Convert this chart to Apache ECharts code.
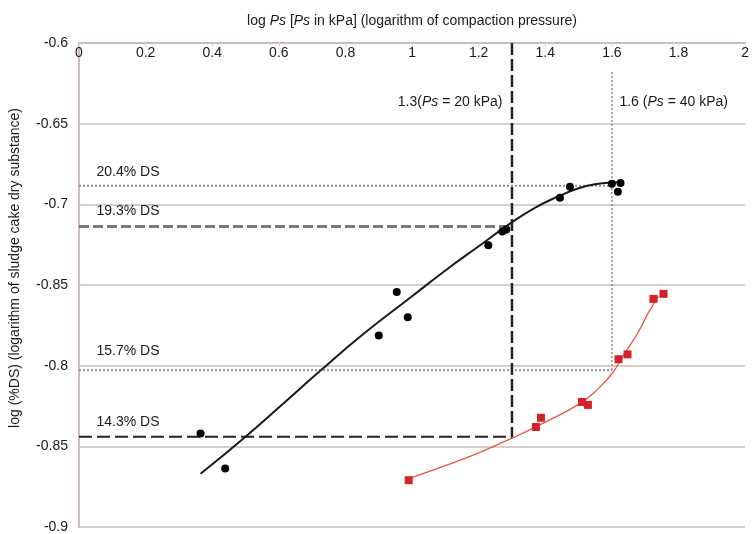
<!DOCTYPE html>
<html><head><meta charset="utf-8">
<script src="https://cdn.jsdelivr.net/npm/echarts@6/dist/echarts.min.js"></script>
<style>html,body{margin:0;padding:0;background:#fff}#c{width:752px;height:534px}</style>
</head><body><div id="c"></div>
<script>
// measured data points (log Ps, log %DS)
const blackX = [0.365, 0.439, 0.900, 0.954, 0.987, 1.229, 1.271, 1.283, 1.444, 1.474, 1.600, 1.626, 1.618];
const blackY = [-0.842, -0.8637, -0.7813, -0.7543, -0.770, -0.7254, -0.7168, -0.7156, -0.6959, -0.6891, -0.6873, -0.6867, -0.6922];
const redX = [0.990, 1.372, 1.387, 1.510, 1.528, 1.620, 1.647, 1.725, 1.755];
const redY = [-0.871, -0.838, -0.8323, -0.8225, -0.8243, -0.796, -0.793, -0.7586, -0.7555];
// fitted curves
const blackFitX = [0.365, 0.5, 0.6, 0.72, 0.85, 1.0, 1.1, 1.2, 1.294, 1.37, 1.44, 1.5, 1.55, 1.6, 1.63];
const blackFitY = [-0.867, -0.844, -0.826, -0.804, -0.781, -0.757, -0.741, -0.726, -0.712, -0.702, -0.695, -0.690, -0.6875, -0.6865, -0.686];
const redFitX = [0.99, 1.1, 1.2, 1.3, 1.4, 1.5, 1.55, 1.6, 1.64, 1.68, 1.71, 1.74];
const redFitY = [-0.870, -0.862, -0.854, -0.845, -0.835, -0.824, -0.816, -0.805, -0.792, -0.779, -0.767, -0.757];
// horizontal reference lines
const refLabels = ['20.4% DS', '19.3% DS', '15.7% DS', '14.3% DS'];
const refY = [-0.6885, -0.7137, -0.8028, -0.844];
const refEndX = [1.6, 1.3, 1.6, 1.3];
// vertical reference lines
const vRefX = [1.3, 1.6];
const vRefKPa = [20, 40];
const vRefTop = [-0.6, -0.618];
const vRefBottom = [-0.8446, -0.8028];
// y tick labels (as printed)
const yTickLabels = ['-0.9', '-0.85', '-0.8', '-0.85', '-0.7', '-0.65', '-0.6'];

const FONT = "'Liberation Sans', Arial, sans-serif";
const TXT = '#1a1a1a';
const GRIDC = '#cdbcb7';

const hStyles = [
  {type: [2, 2], width: 2, color: '#8f8f8f'},
  {type: [10, 4], width: 3, color: '#7a7a7a'},
  {type: [2, 2], width: 2, color: '#8f8f8f'},
  {type: [13, 5], width: 2, color: '#222'}
];
const vStyles = [
  {type: [12, 4], width: 2.5, color: '#222'},
  {type: [2, 2], width: 1.5, color: '#8f8f8f'}
];
const hLabelDy = [-14, -15, -19, -15];

const series = [];
refY.forEach((y, i) => {
  series.push({
    type: 'line', silent: true, z: 1, symbol: 'none',
    data: [[0, y], [refEndX[i], y]],
    lineStyle: hStyles[i]
  });
});
vRefX.forEach((x, i) => {
  series.push({
    type: 'line', silent: true, z: 1, symbol: 'none',
    data: [[x, vRefTop[i]], [x, vRefBottom[i]]],
    lineStyle: vStyles[i]
  });
});
series.push({
  type: 'line', z: 3, showSymbol: false, smooth: 0.5,
  data: blackFitX.map((x, i) => [x, blackFitY[i]]),
  lineStyle: {color: '#1a1a1a', width: 2}
});
series.push({
  type: 'line', z: 3, showSymbol: false, smooth: 0.5,
  data: redFitX.map((x, i) => [x, redFitY[i]]),
  lineStyle: {color: '#e8553f', width: 1.3}
});
series.push({
  type: 'scatter', z: 4, symbol: 'circle', symbolSize: 8,
  data: blackX.map((x, i) => [x, blackY[i]]),
  itemStyle: {color: '#000', opacity: 1}
});
series.push({
  type: 'scatter', z: 4, symbol: 'rect', symbolSize: 8,
  data: redX.map((x, i) => [x, redY[i]]),
  itemStyle: {color: '#d2232a', opacity: 1}
});
// annotation labels
const annData = [];
refY.forEach((y, i) => {
  annData.push({
    value: [0, y],
    label: {show: true, position: 'right', distance: 17, offset: [0, hLabelDy[i]], formatter: refLabels[i]}
  });
});
vRefX.forEach((x, i) => {
  annData.push({
    value: [x, -0.6],
    label: {show: true, position: i === 0 ? 'left' : 'right', distance: i === 0 ? 9 : 7, offset: [0, 59],
      formatter: (i === 0 ? x.toFixed(1) + '(' : x.toFixed(1) + ' (') + '{i|Ps} = ' + vRefKPa[i] + ' kPa)'}
  });
});
series.push({
  type: 'scatter', z: 5, silent: true, symbolSize: 1,
  itemStyle: {color: 'rgba(0,0,0,0)', opacity: 1},
  label: {show: true, color: TXT, fontFamily: FONT, fontSize: 14,
    rich: {i: {fontStyle: 'italic', fontFamily: FONT, fontSize: 14, color: TXT}}},
  data: annData
});

const chart = echarts.init(document.getElementById('c'), null, {renderer: 'canvas'});
chart.setOption({
  backgroundColor: '#fff',
  animation: false,
  grid: {left: 78, right: 5, top: 43, bottom: 3, containLabel: false},
  xAxis: {
    type: 'value', position: 'top', min: 0, max: 2, interval: 0.2,
    name: '{a|log }{i|Ps}{a| [}{i|Ps}{a| in kPa] (logarithm of compaction pressure)}',
    nameLocation: 'middle', nameGap: 15,
    nameTextStyle: {
      rich: {
        a: {fontFamily: FONT, fontSize: 14, color: TXT},
        i: {fontFamily: FONT, fontSize: 14, color: TXT, fontStyle: 'italic'}
      }
    },
    axisLine: {show: true, lineStyle: {color: GRIDC, width: 2}},
    axisTick: {show: true, inside: true, length: 4, lineStyle: {color: '#e2d8d5'}},
    axisLabel: {inside: true, margin: 3, fontFamily: FONT, fontSize: 14, color: TXT},
    splitLine: {show: false}
  },
  yAxis: {
    type: 'value', min: -0.9, max: -0.6, interval: 0.05,
    name: 'log (%DS) (logarithm of sludge cake dry substance)',
    nameLocation: 'middle', nameGap: 57, nameRotate: 90,
    nameTextStyle: {fontFamily: FONT, fontSize: 14, color: TXT, padding: [0, 0, 0, 34]},
    axisLine: {show: true, lineStyle: {color: GRIDC, width: 2}},
    axisTick: {show: false},
    axisLabel: {
      margin: 11, fontFamily: FONT, fontSize: 14, color: TXT, padding: [0, 0, 10, 0],
      formatter: v => yTickLabels[Math.round((v + 0.9) / 0.05)]
    },
    splitLine: {show: true, lineStyle: {color: GRIDC, width: 1.5}}
  },
  series: series
});
</script>
</body></html>
